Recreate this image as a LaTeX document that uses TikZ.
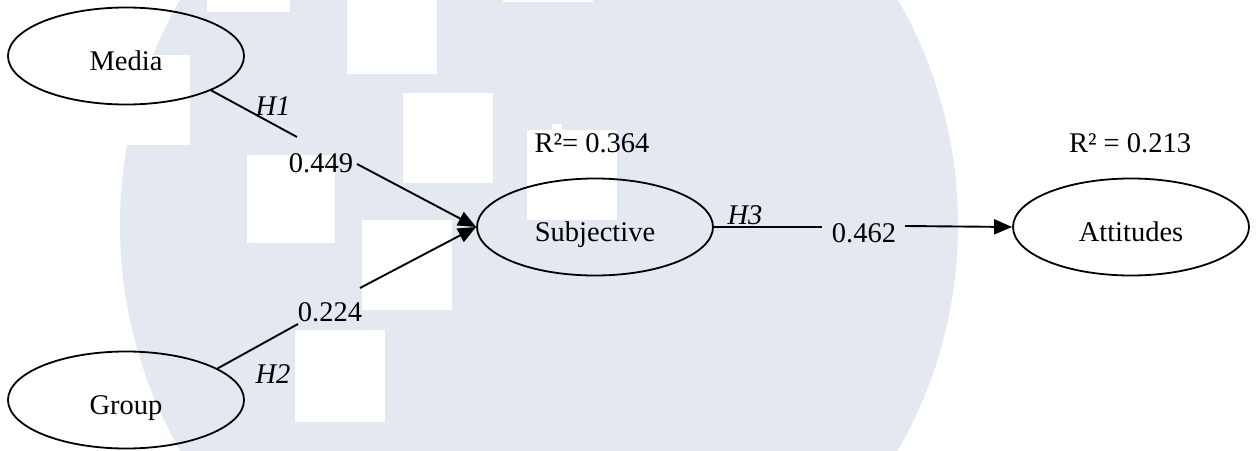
\documentclass[tikz,border=0pt]{standalone}
\usepackage{fontspec}
\setmainfont{Liberation Serif}
\usetikzlibrary{arrows.meta,shapes.geometric}
\definecolor{logotint}{RGB}{228,232,240}
\begin{document}
\begin{tikzpicture}[x=1pt,y=-1pt,
  txt/.style={font=\fontsize{28.5}{32}\selectfont},
  latent/.style={txt, draw, line width=1.8pt, ellipse, inner sep=0pt,
    minimum width=236pt, minimum height=97pt, text height=28pt, text depth=0pt},
  lab/.style={txt, inner sep=0pt},
  hyp/.style={lab, font=\fontsize{28.5}{32}\selectfont\itshape},
  link/.style={line width=1.9pt},
  arr/.style={link, -{Triangle[length=18pt,width=15pt]}}
]
\useasboundingbox (0,0) rectangle (1256,450);

% watermark: tinted disc with white squares
\begin{scope}
  \clip (0,0) rectangle (1256,450);
  \fill[logotint] (539,225) ellipse [x radius=419, y radius=436];
  \fill[white] (207,0) rectangle (290,12);
  \fill[white] (347,0) rectangle (437,74);
  \fill[white] (503,0) rectangle (593,2);
  \fill[white] (100,55) rectangle (190,145);
  \fill[white] (403,93) rectangle (493,183);
  \fill[white] (247,155) rectangle (335,243);
  \fill[white] (362,220) rectangle (452,310);
  \fill[white] (295,330) rectangle (385,422);
  \fill[white] (527,130) rectangle (617,220);
  \fill[white] (552,124) rectangle (562,130);
\end{scope}

% constructs
\node[latent] (media) at (126,56) {Media};
\node[latent] (group) at (126,400) {Group};
\node[latent] (subj)  at (595,227) {Subjective};
\node[latent] (att)   at (1131,227) {Attitudes};

% explained variance
\node[lab] (r2s) at (592,143) {R²= 0.364};
\node[lab] (r2a) at (1130,143) {R² = 0.213};

% path coefficients and hypothesis labels
\node[hyp] (h1) at (273,106) {H1};
\node[lab] (c1) at (321,163) {0.449};
\node[hyp] (h2) at (273,374) {H2};
\node[lab] (c2) at (330,312) {0.224};
\node[hyp] (h3) at (745,215) {H3};
\node[lab] (c3) at (864,233) {0.462};

% break points of the paths around the coefficients
\coordinate (m1) at (297,137);
\coordinate (m2) at (357,164);
\coordinate (g1) at (298,324);
\coordinate (g2) at (360,288);
\coordinate (s1) at (822,227);
\coordinate (s2) at (905,226);

\draw[link] (media.-22) -- (m1);
\draw[arr]  (m2) -- (subj.west);
\draw[link] (group.19) -- (g1);
\draw[arr]  (g2) -- (subj.west);
\draw[link] (subj.east) -- (s1);
\draw[arr]  (s2) -- (att.west);
\end{tikzpicture}
\end{document}
